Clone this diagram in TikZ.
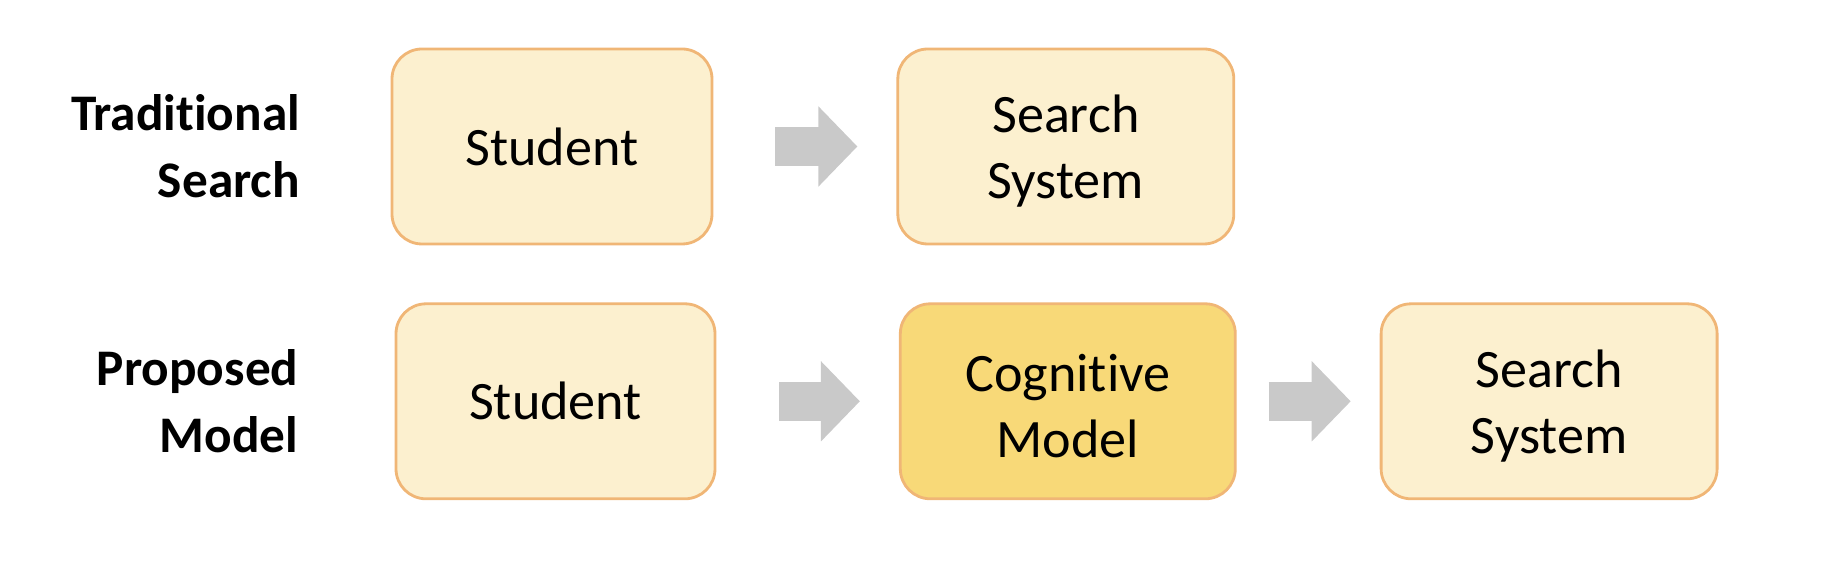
\documentclass[tikz,border=0pt]{standalone}
\usepackage{fontspec}
\setmainfont{Carlito}[Ligatures=NoCommon]
\usepackage{xcolor}
\usepackage{tikz}
\usetikzlibrary{arrows.meta, positioning}

\definecolor{boxfill}{HTML}{FCF0CF}
\definecolor{boxedge}{HTML}{F0B676}
\definecolor{modelfill}{HTML}{F8D978}
\definecolor{arrowgray}{HTML}{C9C9C9}

\newcommand{\topstrut}{\rule{0pt}{13.4pt}}

\begin{document}
\begin{tikzpicture}[
        node distance=0.57cm,
        block/.style={draw=boxedge, line width=0.8pt, rectangle, rounded corners=0.3cm,
            fill=boxfill, align=center, minimum height=1.95cm,
            font=\fontsize{15.4}{18.6}\selectfont},
        rowlabel/.style={align=right, inner sep=0pt, anchor=east,
            font=\fontsize{14.6}{19}\selectfont\bfseries},
        bigarrow/.style={draw=arrowgray, line width=0.39cm, line cap=butt,
            -{Triangle[length=0.39cm, width=0.78cm]}},
    ]
        \useasboundingbox (0,0) rectangle (18.32,-5.84);

        % traditional search
        \node[block, minimum width=3.2cm] (t1) at (5.52,-1.465) {Student};
        \node[block, minimum width=3.36cm, right=1.83cm of t1] (t2) {\topstrut Search\\System};

        % proposed model
        \node[block, minimum width=3.19cm, below=of t1, xshift=0.035cm] (p1) {Student};
        \node[block, minimum width=3.35cm, fill=modelfill, right=1.825cm of p1] (p2) {\topstrut Cognitive\\Model};
        \node[block, minimum width=3.36cm, right=1.43cm of p2] (p3) {\topstrut Search\\System};

        \node[rowlabel, left=0.90cm of t1] (lt) {Traditional\\Search};
        \node[rowlabel, left=0.955cm of p1] (lp) {Proposed\\Model};

        \foreach \i/\j/\a/\b in {t1/t2/0.62/0.39, p1/p2/0.63/0.39, p2/p3/0.32/0.29}
            \draw[bigarrow, shorten <=\a cm, shorten >=\b cm] (\i) -- (\j);
    \end{tikzpicture}
\end{document}
